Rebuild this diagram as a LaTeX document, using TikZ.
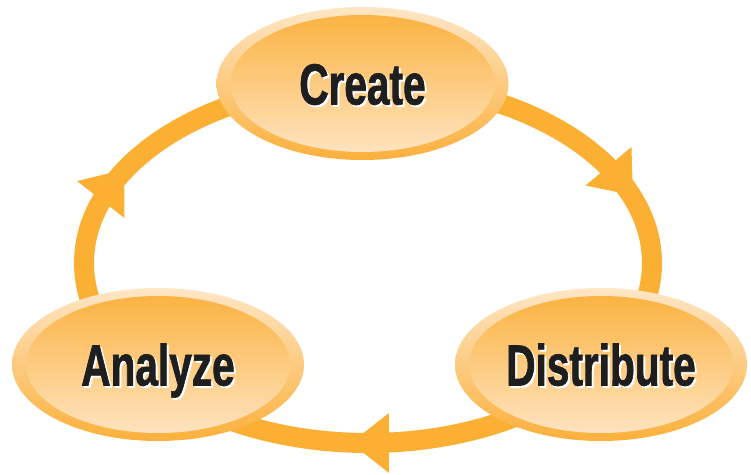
\documentclass[tikz,border=0pt]{standalone}
\usepackage{fontspec}
\newfontfamily\labelfont[FakeStretch=0.7,FakeBold=1.2]{Liberation Sans}
\usetikzlibrary{shapes.geometric,calc}
\definecolor{ringcol}{HTML}{FBB034}
\definecolor{lightc}{HTML}{FEE6C6}
\definecolor{darkc}{HTML}{FBB03B}
\definecolor{txtc}{HTML}{1E1E1E}
\newcommand{\shadowtext}[1]{\makebox[0pt][l]{\hspace{2pt}\raisebox{-2pt}{\textcolor{white}{#1}}}#1}
\tikzset{
  ring/.style={draw=ringcol, line width=20pt},
  arrowhead/.style={fill=ringcol},
  stage/.style={ellipse, minimum width=292pt, minimum height=153pt,
    inner sep=0pt, outer sep=0pt, top color=lightc, bottom color=darkc,
    text=txtc, font=\labelfont\bfseries\fontsize{58}{60}\selectfont,
    text height=42pt, text depth=0pt,
    path picture={\shade[top color=darkc, bottom color=lightc]
      (path picture bounding box.center) ellipse [x radius=132pt, y radius=68.5pt];}}
}
\begin{document}
\begin{tikzpicture}[x=1pt,y=1pt]
\useasboundingbox (0,0) rectangle (751,474);
\coordinate (rc) at (368,211);
\draw[ring] (rc) ellipse [x radius=284, y radius=180];
\path (rc) ++(28:284pt and 180pt) coordinate (h1);
\path (rc) ++(155:284pt and 180pt) coordinate (h2);
\path (rc) ++(271:284pt and 180pt) coordinate (h3);
\begin{scope}[shift={(h1)}, rotate=-50]
  \fill[arrowhead] (22,0) -- (-16,30) -- (-16,-30) -- cycle;
\end{scope}
\begin{scope}[shift={(h2)}, rotate=52]
  \fill[arrowhead] (22,0) -- (-16,30) -- (-16,-30) -- cycle;
\end{scope}
\begin{scope}[shift={(h3)}, rotate=180]
  \fill[arrowhead] (22,0) -- (-16,30) -- (-16,-30) -- cycle;
\end{scope}
\node[stage] (create) at (362.5,390.5) {\shadowtext{Create}};
\node[stage] (analyze) at (158,109.5) {\shadowtext{Analyze}};
\node[stage] (distribute) at (601,109.5) {\shadowtext{Distribute}};
\end{tikzpicture}
\end{document}
